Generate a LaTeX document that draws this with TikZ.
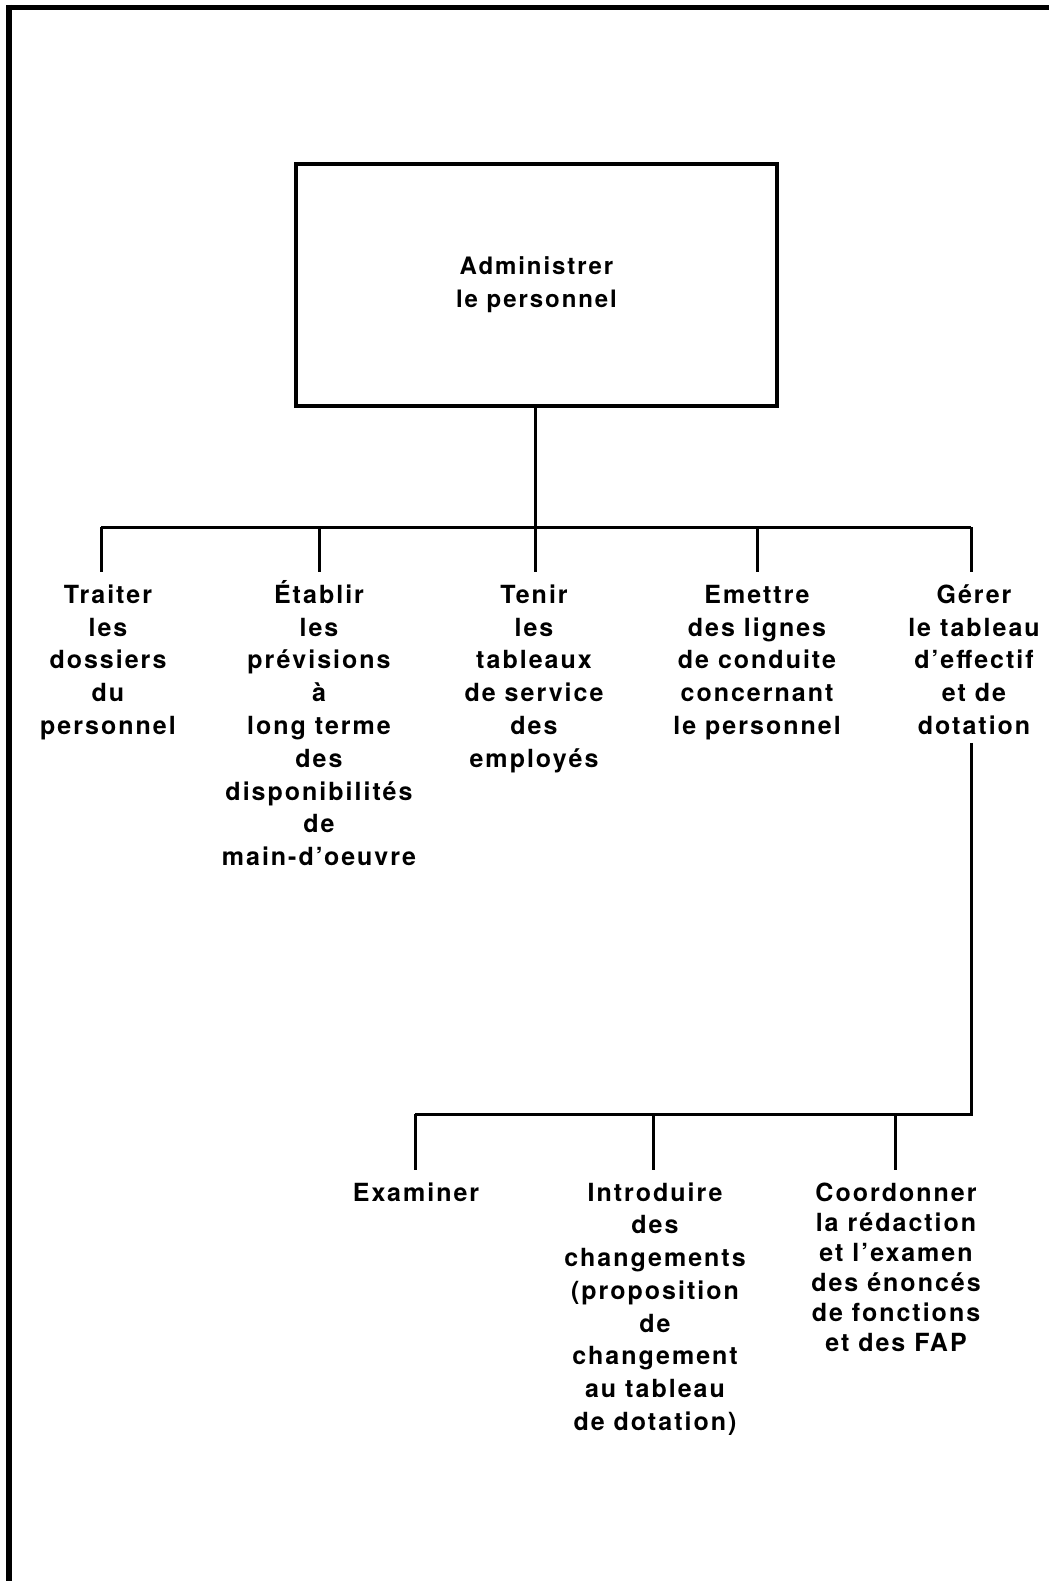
\documentclass[tikz,border=0pt]{standalone}
\usepackage{fontspec}
\newfontfamily\hvf[LetterSpace=8,BoldFont={TeX Gyre Heros Bold}]{TeX Gyre Heros}
\newcommand\firstl{\rule{0pt}{23pt}}
\begin{document}
\begin{tikzpicture}[x=1pt,y=-1pt,
  frame/.style={line width=5.5pt},
  conn/.style={line width=3pt},
  rootbox/.style={draw,line width=3.6pt,minimum width=481pt,minimum height=242pt,align=center,font=\hvf\bfseries\fontsize{24}{33}\selectfont},
  task/.style={align=center,inner xsep=0pt,inner ysep=8pt,anchor=north,font=\hvf\bfseries\fontsize{25}{32.8}\selectfont},
  taskb/.style={task,font=\hvf\bfseries\fontsize{25}{32.7}\selectfont},
  taskc/.style={task,font=\hvf\bfseries\fontsize{25}{30}\selectfont}]
\useasboundingbox (0,0) rectangle (1049,1581);
% outer frame (top and left only)
\draw[frame] (9,7.5) -- (1049,7.5);
\draw[frame] (9,5) -- (9,1581);
% root
\node[rootbox] (root) at (536.5,285) {Administrer\\le personnel};
% junctions
\coordinate (j0) at (535,527);
\coordinate (j1) at (101,527);
\coordinate (j2) at (319,527);
\coordinate (j3) at (535,527);
\coordinate (j4) at (757,527);
\coordinate (j5) at (971,527);
% first-level tasks
\node[task] (t1) at (108,572) {\firstl Traiter\\les\\dossiers\\du\\personnel};
\node[task] (t2) at (319,572) {\firstl Établir\\les\\prévisions\\à\\long terme\\des\\disponibilités\\de\\main-d’oeuvre};
\node[task] (t3) at (534,572) {\firstl Tenir\\les\\tableaux\\de service\\des\\employés};
\node[task] (t4) at (757,572) {\firstl Emettre\\des lignes\\de conduite\\concernant\\le personnel};
\node[task] (t5) at (974,572) {\firstl Gérer\\le tableau\\d’effectif\\et de\\dotation};
\draw[conn] (root.south -| j0) -- (j0);
\draw[conn] (j1) -- (j5);
\draw[conn] (j1) -- (j1 |- t1.north);
\draw[conn] (j2) -- (j2 |- t2.north);
\draw[conn] (j3) -- (j3 |- t3.north);
\draw[conn] (j4) -- (j4 |- t4.north);
\draw[conn] (j5) -- (j5 |- t5.north);
% second level
\coordinate (k5) at (971,1114);
\coordinate (k1) at (415,1114);
\coordinate (k2) at (653,1114);
\coordinate (k3) at (895,1114);
\node[taskb] (u1) at (416,1170) {\firstl Examiner};
\node[taskb] (u2) at (655,1170) {\firstl Introduire\\des\\changements\\(proposition\\de\\changement\\au tableau\\de dotation)};
\node[taskc] (u3) at (896,1170) {\firstl Coordonner\\la rédaction\\et l’examen\\des énoncés\\de fonctions\\et des FAP};
\draw[conn] (t5.south -| k5) -- (k5) -- (k1);
\draw[conn] (k1) -- (k1 |- u1.north);
\draw[conn] (k2) -- (k2 |- u2.north);
\draw[conn] (k3) -- (k3 |- u3.north);
\end{tikzpicture}
\end{document}
